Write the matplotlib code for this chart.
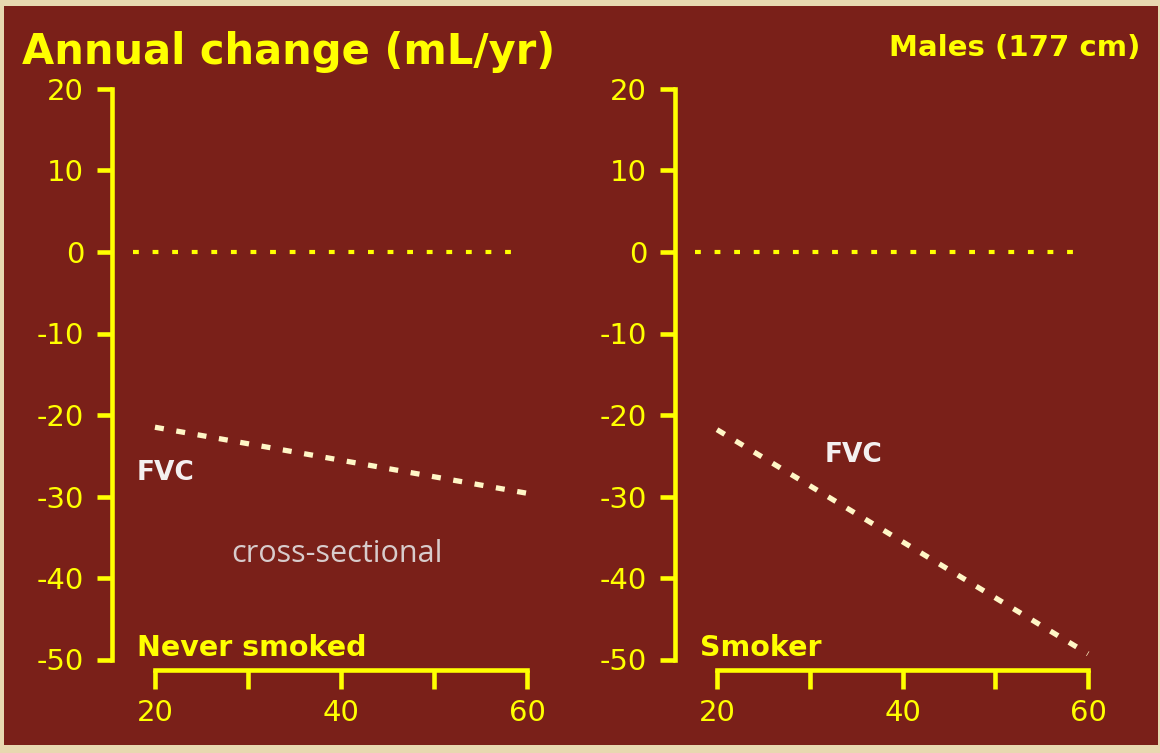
import matplotlib.pyplot as plt
from matplotlib.patches import Rectangle

plt.rcParams['axes.unicode_minus'] = False
plt.rcParams['font.family'] = ['DejaVu Sans']

# data
ages = [20, 60]
fvc_never = [-21.5, -29.6]
fvc_smoker = [-21.8, -49.3]
zero_x = [17.6, 58.8]
zero_y = [0, 0]
yticks = [20, 10, 0, -10, -20, -30, -40, -50]
xticks = [20, 30, 40, 50, 60]
xlabels = ['20', '', '40', '', '60']

YEL = '#FFFF00'
RED = '#7A2019'
CREAM = '#FFF6C6'

fig = plt.figure(figsize=(11.6, 7.53), dpi=100, facecolor='#E8D8B0')
fig.patches.append(Rectangle((4/1160, 8/753), 1154/1160, 739/753,
                             transform=fig.transFigure, facecolor=RED,
                             edgecolor='none', zorder=-10))

W, H = 1160, 753


def panel(left_px, x0, ppu, fvc, label, fvc_xy):
    ax = fig.add_axes([left_px/W, 13/H, 448/W, 680/H])
    ax.set_facecolor('none')
    ax.set_xlim(x0, x0 + 448/ppu)
    ax.set_ylim((252-740)/8.15, (252-60)/8.15)
    for s in ['top', 'right']:
        ax.spines[s].set_visible(False)
    ax.spines['left'].set_position(('data', x0))
    ax.spines['left'].set_bounds(-50, 20)
    ax.spines['bottom'].set_position(('data', -51.3))
    ax.spines['bottom'].set_bounds(20, 60)
    for s in ['left', 'bottom']:
        ax.spines[s].set_color(YEL)
        ax.spines[s].set_linewidth(3.3)
    ax.set_yticks(yticks)
    ax.set_xticks(xticks, labels=xlabels)
    ax.tick_params(axis='y', colors=YEL, length=11, width=3.3, pad=9,
                   labelsize=21, direction='out')
    ax.tick_params(axis='x', colors=YEL, length=14, width=3.3, pad=7,
                   labelsize=21, direction='out')
    # dotted zero line
    ax.plot(zero_x, zero_y, color=YEL, lw=3, ls=(0, (1.4, 3.3)),
            dash_capstyle='butt')
    # FVC line
    ax.plot(ages, fvc, color=CREAM, lw=3.8, ls=(0, (1.7, 2.4)),
            dash_capstyle='butt')
    ax.text(x0 + 2.7, -49.6, label, color=YEL, fontsize=20.5,
            fontweight='bold', va='baseline', ha='left')
    ax.text(fvc_xy[0], fvc_xy[1], 'FVC', color='#F4F0F0', fontsize=19,
            fontweight='bold', va='baseline', ha='left')
    return ax


ax1 = panel(112, 15.38, 9.3, fvc_never, 'Never smoked', (18.0, -28.0))
ax1.text(28.2, -38.0, 'cross-sectional', color='#D8CCCC', fontsize=22,
         family=['Open Sans', 'DejaVu Sans'], va='baseline', ha='left')
ax2 = panel(675, 15.47, 9.275, fvc_smoker, 'Smoker', (31.6, -25.8))

fig.text(22/W, 1 - 64/H, 'Annual change (mL/yr)', color=YEL, fontsize=30,
         fontweight='bold', va='baseline', ha='left')
fig.text(1140/W, 1 - 56/H, 'Males (177 cm)', color=YEL, fontsize=21,
         fontweight='bold', va='baseline', ha='right')

fig.savefig('out.png', dpi=100, facecolor=fig.get_facecolor())
